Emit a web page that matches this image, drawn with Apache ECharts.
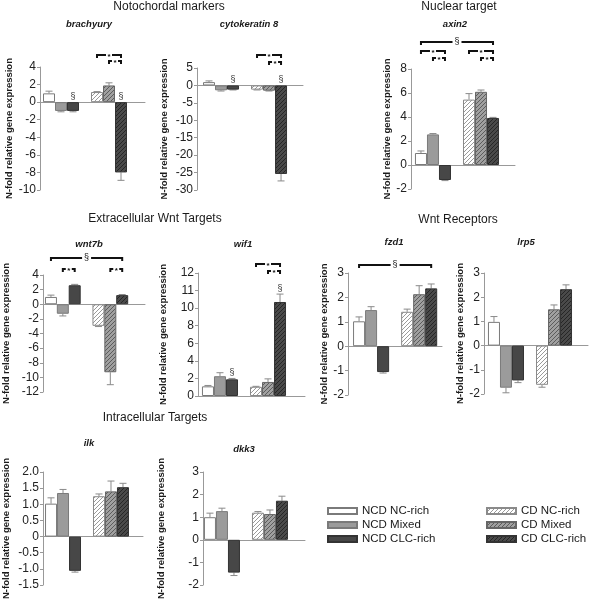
<!DOCTYPE html>
<html><head><meta charset="utf-8">
<script src="https://cdn.jsdelivr.net/npm/echarts@6/dist/echarts.min.js"></script>
<style>html,body{margin:0;padding:0;background:#fff}#c{width:600px;height:601px}</style>
</head><body><div id="c"></div>
<script>
// ---------- DATA ----------
const groups = ['NCD NC-rich', 'NCD Mixed', 'NCD CLC-rich', 'CD NC-rich', 'CD Mixed', 'CD CLC-rich'];

const brachyuryMean = [1.0, -1.0, -1.0, 1.15, 1.9, -8.0];
const brachyuryErr  = [1.25, -1.1, -1.1, 1.2, 2.2, -8.9];
const brachyurySect = [2, 5];
const brachyuryBrackets = [[3, 5, '*', 2], [4, 5, '*', 1]];

const cytokeratinMean = [0.95, -1.4, -1.2, -1.2, -1.5, -25.4];
const cytokeratinErr  = [1.3, -1.6, -1.3, -1.3, -1.6, -27.4];
const cytokeratinSect = [2, 5];
const cytokeratinBrackets = [[3, 5, '*', 2], [4, 5, '*', 1]];

const axin2Mean = [1.0, 2.55, -1.25, 5.45, 6.1, 3.92];
const axin2Err  = [1.17, 2.62, -1.3, 5.95, 6.25, 3.97];
const axin2Sect = [];
const axin2Brackets = [[0, 5, '§', 3], [0, 2, '*', 2], [1, 2, '*', 1], [3, 5, '*', 2], [4, 5, '*', 1]];

const wnt7bMean = [1.0, -1.3, 2.6, -2.95, -9.3, 1.25];
const wnt7bErr  = [1.25, -1.6, 2.72, -3.05, -11.0, 1.33];
const wnt7bSect = [];
const wnt7bBrackets = [[0, 5, '§', 2], [1, 2, '*', 1], [4, 5, '*', 1]];

const wif1Mean = [1.1, 2.25, 1.9, 1.05, 1.6, 10.7];
const wif1Err  = [1.2, 2.65, 2.0, 1.1, 1.95, 11.6];
const wif1Sect = [2, 5];
const wif1Brackets = [[3, 5, '*', 2], [4, 5, '*', 1]];
const wif1TickLabels = ['0', '2', '4', '6', '8', '10', '11', '12'];

const fzd1Mean = [1.02, 1.48, -1.06, 1.41, 2.13, 2.37];
const fzd1Err  = [1.2, 1.62, -1.1, 1.52, 2.48, 2.55];
const fzd1Sect = [];
const fzd1Brackets = [[0, 5, '§', 1]];

const lrp5Mean = [0.98, -1.74, -1.44, -1.62, 1.5, 2.33];
const lrp5Err  = [1.2, -1.95, -1.53, -1.72, 1.68, 2.51];
const lrp5Sect = [];
const lrp5Brackets = [];

const ilkMean = [1.02, 1.35, -1.06, 1.25, 1.4, 1.53];
const ilkErr  = [1.2, 1.46, -1.1, 1.32, 1.72, 1.65];
const ilkSect = [];
const ilkBrackets = [];

const dkk3Mean = [1.0, 1.27, -1.45, 1.2, 1.14, 1.73];
const dkk3Err  = [1.18, 1.4, -1.58, 1.25, 1.32, 1.93];
const dkk3Sect = [];
const dkk3Brackets = [];

const sections = [
  ['Notochordal markers', 169, 8],
  ['Nuclear target', 459, 8],
  ['Extracellular Wnt Targets', 155, 220],
  ['Wnt Receptors', 458, 221],
  ['Intracellular Targets', 155, 419]
];
const yName = 'N-fold relative gene expression';

// ---------- LAYOUT ----------
const panels = [
  {gene:'brachyury', mean:brachyuryMean, err:brachyuryErr, sect:brachyurySect, br:brachyuryBrackets,
   left:40, top:67, w:105, h:123, xMin:-0.25, xMax:8.5, yMin:-10, yMax:4, yInt:2, gap:26, lv:[6,12], tx:89, ty:25},
  {gene:'cytokeratin 8', mean:cytokeratinMean, err:cytokeratinErr, sect:cytokeratinSect, br:cytokeratinBrackets,
   left:197, top:68, w:106, h:122, xMin:-0.5, xMax:8.33, yMin:-30, yMax:5, yInt:5, gap:28, lv:[6,13], tx:249, ty:25},
  {gene:'axin2', mean:axin2Mean, err:axin2Err, sect:axin2Sect, br:axin2Brackets,
   left:411, top:69, w:104, h:120, xMin:-0.33, xMax:8.33, yMin:-2, yMax:8, yInt:2, gap:17, lv:[11,18,27], tx:455, ty:25},
  {gene:'wnt7b', mean:wnt7bMean, err:wnt7bErr, sect:wnt7bSect, br:wnt7bBrackets,
   left:42, top:275, w:103, h:117, xMin:-0.17, xMax:8.42, yMin:-12, yMax:4, yInt:2, gap:32, lv:[6,17], tx:89, ty:245},
  {gene:'wif1', mean:wif1Mean, err:wif1Err, sect:wif1Sect, br:wif1Brackets,
   left:198, top:273, w:107, h:123, xMin:-0.33, xMax:8.58, yMin:0, yMax:14, yInt:2, gap:30, lv:[2,9], tx:243, ty:245,
   fmt:v => wif1TickLabels[Math.round(v / 2)]},
  {gene:'fzd1', mean:fzd1Mean, err:fzd1Err, sect:fzd1Sect, br:fzd1Brackets,
   left:348, top:273, w:94, h:122, xMin:-0.42, xMax:7.4, yMin:-2, yMax:3, yInt:1, gap:18, lv:[8], tx:394, ty:243},
  {gene:'lrp5', mean:lrp5Mean, err:lrp5Err, sect:lrp5Sect, br:lrp5Brackets,
   left:484, top:273, w:104, h:121, xMin:-0.33, xMax:8.33, yMin:-2, yMax:3, yInt:1, gap:16, lv:[8], tx:526, ty:243},
  {gene:'ilk', mean:ilkMean, err:ilkErr, sect:ilkSect, br:ilkBrackets,
   left:43, top:472, w:100, h:120, xMin:-0.17, xMax:8.17, yMin:-1.5, yMax:2, yInt:0.5, gap:32, lv:[8], tx:89, ty:444,
   fmt:v => (v === 0 ? '0' : v.toFixed(1))},
  {gene:'dkk3', mean:dkk3Mean, err:dkk3Err, sect:dkk3Sect, br:dkk3Brackets,
   left:203, top:472, w:102, h:121, xMin:-0.08, xMax:8.42, yMin:-2, yMax:3, yInt:1, gap:37, lv:[8], tx:244, ty:450}
];

const FONT = "'Liberation Sans', Arial, Helvetica, sans-serif";

function hatch(bg, fg) {
  const c = document.createElement('canvas');
  c.width = 4; c.height = 4;
  const g = c.getContext('2d');
  g.fillStyle = bg; g.fillRect(0, 0, 4, 4);
  g.strokeStyle = fg; g.lineWidth = 1;
  g.beginPath();
  g.moveTo(0, 4); g.lineTo(4, 0);
  g.moveTo(-1, 1); g.lineTo(1, -1);
  g.moveTo(3, 5); g.lineTo(5, 3);
  g.stroke();
  return {image: c, repeat: 'repeat'};
}

const styles = [
  {color: '#ffffff', borderColor: '#7a7a7a', borderWidth: 1},
  {color: '#9b9b9b', borderColor: '#7a7a7a', borderWidth: 1},
  {color: '#474747', borderColor: '#333333', borderWidth: 1},
  {color: hatch('#ffffff', '#9a9a9a'), borderColor: '#8a8a8a', borderWidth: 1},
  {color: hatch('#a0a0a0', '#5c5c5c'), borderColor: '#666666', borderWidth: 1},
  {color: hatch('#4a4a4a', '#262626'), borderColor: '#333333', borderWidth: 1}
];

const slotX = k => (k < 3 ? k + 0.5 : k + 1.5);

const grid = [], xAxis = [], yAxis = [], series = [], title = [];

sections.forEach(s => title.push({text: s[0], left: s[1], top: s[2] - 7, textAlign: 'center', padding: 0,
  textStyle: {fontSize: 12, fontWeight: 'normal', color: '#1a1a1a', fontFamily: FONT}}));

panels.forEach((p, i) => {
  grid.push({left: p.left, top: p.top, width: p.w, height: p.h});
  xAxis.push({type: 'value', gridIndex: i, min: p.xMin, max: p.xMax,
    axisLine: {show: true, onZero: true, lineStyle: {color: '#999', width: 1}},
    axisTick: {show: false}, axisLabel: {show: false}, splitLine: {show: false}});
  yAxis.push({type: 'value', gridIndex: i, min: p.yMin, max: p.yMax, interval: p.yInt,
    name: yName, nameLocation: 'middle', nameRotate: 90, nameGap: p.gap,
    nameTextStyle: {fontSize: 9.5, fontWeight: 'bold', color: '#1a1a1a', fontFamily: FONT},
    axisLine: {show: true, onZero: false, lineStyle: {color: '#999', width: 1}},
    axisTick: {show: true, length: 3, lineStyle: {color: '#999'}},
    axisLabel: {fontSize: 12, color: '#222', margin: 4, fontFamily: FONT, formatter: p.fmt || (v => String(v))},
    splitLine: {show: false}});
  title.push({text: p.gene, left: p.tx, top: p.ty - 6, textAlign: 'center', padding: 0,
    textStyle: {fontSize: 9.5, fontWeight: 'bold', fontStyle: 'italic', color: '#1a1a1a', fontFamily: FONT}});

  const bw = p.w / (p.xMax - p.xMin);
  groups.forEach((g, k) => {
    series.push({type: 'bar', name: g, xAxisIndex: i, yAxisIndex: i,
      data: [[slotX(k), p.mean[k]]], barWidth: bw, barGap: '-100%',
      itemStyle: styles[k], z: 3, silent: true});
  });
  // error bars
  series.push({type: 'custom', xAxisIndex: i, yAxisIndex: i, z: 2, clip: false, silent: true,
    data: p.mean.map((m, k) => [slotX(k), m, p.err[k]]),
    renderItem: (params, api) => {
      const x = api.value(0), m = api.value(1), e = api.value(2);
      const p0 = api.coord([x, m]), p1 = api.coord([x, e]);
      return {type: 'group', children: [
        {type: 'line', shape: {x1: p0[0], y1: p0[1], x2: p1[0], y2: p1[1]}, style: {stroke: '#8a8a8a', lineWidth: 1}},
        {type: 'line', shape: {x1: p1[0] - 3.5, y1: p1[1], x2: p1[0] + 3.5, y2: p1[1]}, style: {stroke: '#8a8a8a', lineWidth: 1}}
      ]};
    }});
  // § above bars
  if (p.sect.length) {
    series.push({type: 'custom', xAxisIndex: i, yAxisIndex: i, z: 4, clip: false, silent: true,
      data: p.sect.map(k => [slotX(k), Math.max(0, p.mean[k], p.err[k])]),
      renderItem: (params, api) => {
        const pt = api.coord([api.value(0), api.value(1)]);
        return {type: 'text', x: pt[0], y: pt[1] - 6,
          style: {text: '§', fill: '#333', font: '9px ' + FONT, align: 'center', verticalAlign: 'middle',
                  textAlign: 'center', textVerticalAlign: 'middle'}};
      }});
  }
  // significance brackets
  if (p.br.length) {
    series.push({type: 'custom', xAxisIndex: i, yAxisIndex: i, z: 4, clip: false, silent: true,
      data: p.br.map(b => [slotX(b[0]), slotX(b[1]), b[3]]),
      renderItem: (params, api) => {
        const b = p.br[params.dataIndex];
        const x1 = api.coord([api.value(0), 0])[0];
        const x2 = api.coord([api.value(1), 0])[0];
        const y = params.coordSys.y - p.lv[api.value(2) - 1];
        const xm = (x1 + x2) / 2;
        const half = b[2] === '§' ? 4.5 : 3;
        const st = {stroke: '#111', lineWidth: 2};
        return {type: 'group', children: [
          {type: 'polyline', shape: {points: [[x1, y + 3], [x1, y], [xm - half, y]]}, style: Object.assign({fill: null}, st)},
          {type: 'polyline', shape: {points: [[xm + half, y], [x2, y], [x2, y + 3]]}, style: Object.assign({fill: null}, st)},
          {type: 'text', x: xm, y: b[2] === '*' ? y + 1.5 : y,
           style: {text: b[2], fill: '#111', font: (b[2] === '*' ? 'bold 8px ' : '9px ') + FONT,
                   align: 'center', verticalAlign: 'middle', textAlign: 'center', textVerticalAlign: 'middle'}}
        ]};
      }});
  }
});

const legendBase = {orient: 'vertical', top: 505, itemWidth: 29, itemHeight: 6, itemGap: 2, padding: 0,
  icon: 'rect', selectedMode: false,
  textStyle: {fontSize: 11.5, color: '#1a1a1a', fontFamily: FONT}};
const legend = [
  Object.assign({}, legendBase, {left: 327, data: groups.slice(0, 3)}),
  Object.assign({}, legendBase, {left: 486, data: groups.slice(3)})
];

const chart = echarts.init(document.getElementById('c'), null, {renderer: 'canvas'});
chart.setOption({animation: false, backgroundColor: '#fff', title, grid, xAxis, yAxis, series, legend});
</script></body></html>
